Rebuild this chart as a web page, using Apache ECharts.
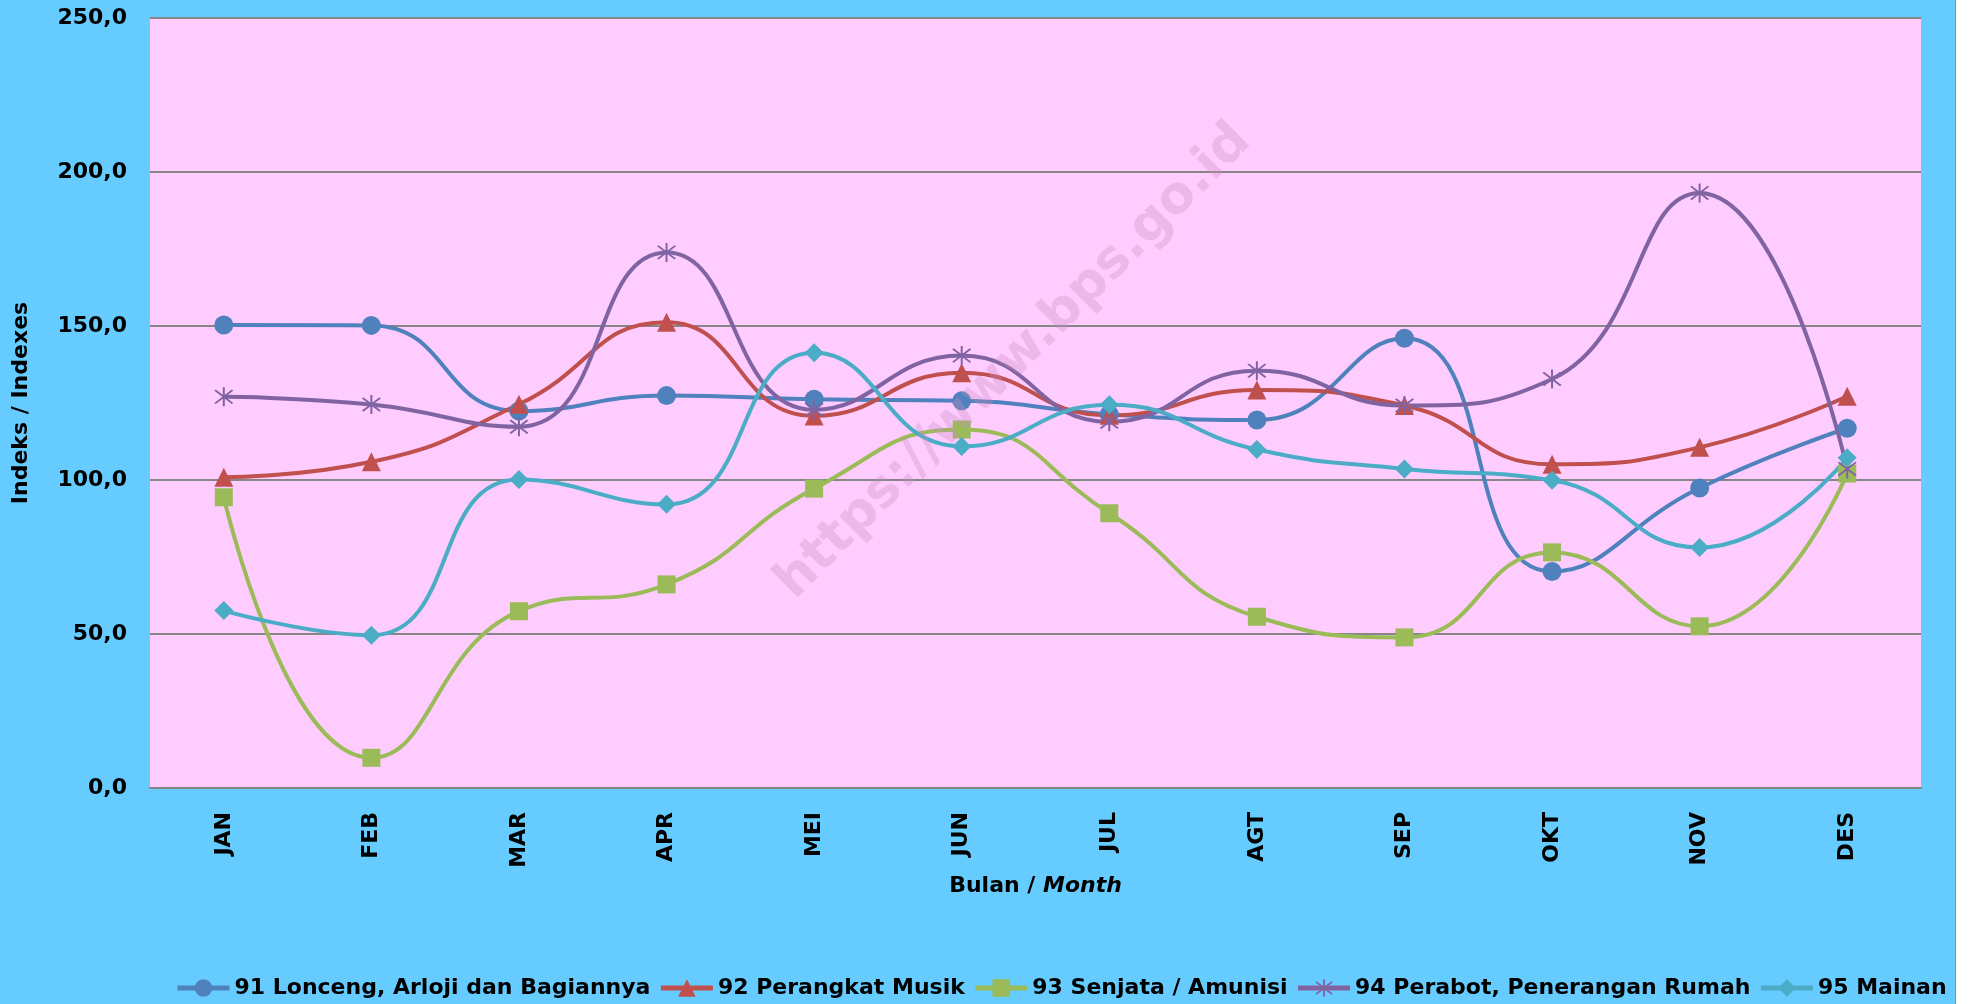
<!DOCTYPE html>
<html>
<head>
<meta charset="utf-8">
<script src="https://cdn.jsdelivr.net/npm/echarts@6/dist/echarts.min.js"></script>
<style>
    html, body { margin: 0; padding: 0; background: #ffffff; }
    #chart { width: 1955px; height: 1004px; background: #66CCFF; border-right: 1px solid #8c8c8c; }
</style>
</head>
<body>
<div id="chart"></div>
<script>
const months = ["JAN", "FEB", "MAR", "APR", "MEI", "JUN", "JUL", "AGT", "SEP", "OKT", "NOV", "DES"];

const lonceng = [150.3, 150.2, 122.4, 127.4, 126.2, 125.7, 121.3, 119.5, 146.0, 70.3, 97.4, 116.8];
const musik = [100.9, 105.9, 124.6, 151.2, 120.8, 134.8, 121.0, 129.2, 124.2, 105.1, 110.6, 127.2];
const senjata = [94.4, 9.8, 57.4, 66.1, 97.2, 116.4, 89.2, 55.6, 48.9, 76.5, 52.5, 102.1];
const perabot = [127.0, 124.5, 117.3, 173.9, 122.8, 140.4, 118.9, 135.5, 124.2, 132.8, 193.2, 103.6];
const mainan = [57.6, 49.6, 100.2, 92.1, 141.3, 110.9, 124.4, 109.9, 103.6, 99.9, 78.1, 107.2];

const seriesNames = [
    "91 Lonceng, Arloji dan Bagiannya",
    "92 Perangkat Musik",
    "93 Senjata / Amunisi",
    "94 Perabot, Penerangan Rumah",
    "95 Mainan",
];

// asterisk marker (vertical bar + x)
const starPath = "path://M9.2,0L10.8,0L10.8,20L9.2,20Z" +
    "M2.4,3.6L3.6,2.4L17.6,16.4L16.4,17.6Z" +
    "M16.4,2.4L17.6,3.6L3.6,17.6L2.4,16.4Z";

const font = "DejaVu Sans";
const chart = echarts.init(document.getElementById("chart"));

function makeSeries(name, data, color, symbol, size) {
    return {
        name: name,
        type: "line",
        data: data,
        smooth: 0.5,
        symbol: symbol,
        symbolSize: size,
        showAllSymbol: true,
        lineStyle: { color: color, width: 4 },
        itemStyle: { color: color },
    };
}

chart.setOption({
    animation: false,
    textStyle: { fontFamily: font },
    grid: { left: 150, right: 34, top: 18, bottom: 216, show: true, backgroundColor: "#FFCCFF", borderWidth: 0 },
    legend: {
        left: 170,
        top: 972,
        itemWidth: 52,
        itemHeight: 22,
        itemGap: 8,
        lineStyle: { width: 5 },
        textStyle: { fontFamily: font, fontWeight: "bold", fontSize: 22, color: "#000" },
        data: seriesNames,
    },
    xAxis: {
        type: "category",
        data: months,
        axisTick: { show: false },
        axisLine: { lineStyle: { color: "#868686", width: 2 } },
        axisLabel: { rotate: 90, margin: 24, color: "#000", fontWeight: "bold", fontSize: 22, fontFamily: font },
        name: "{b|Bulan / }{i|Month}",
        nameLocation: "middle",
        nameGap: 82,
        nameTextStyle: {
            rich: {
                b: { fontFamily: font, fontWeight: "bold", fontSize: 22, color: "#000" },
                i: { fontFamily: font, fontWeight: "bold", fontStyle: "italic", fontSize: 22, color: "#000" },
            },
        },
    },
    yAxis: {
        type: "value",
        min: 0,
        max: 250,
        interval: 50,
        axisLine: { show: false },
        axisTick: { show: false },
        splitLine: { lineStyle: { color: "#868686", width: 2 } },
        axisLabel: {
            margin: 23,
            color: "#000",
            fontWeight: "bold",
            fontSize: 22,
            fontFamily: font,
            formatter: (v) => v.toFixed(1).replace(".", ","),
        },
        name: "Indeks / Indexes",
        nameLocation: "middle",
        nameGap: 118,
        nameTextStyle: { fontFamily: font, fontWeight: "bold", fontSize: 22, color: "#000" },
    },
    graphic: [
        {
            type: "text",
            x: 1014,
            y: 362,
            z: 100,
            rotation: Math.PI / 4,
            style: {
                text: "https://www.bps.go.id",
                fill: "rgba(200,140,190,0.33)",
                font: "bold 52px 'DejaVu Sans'",
                align: "center",
                verticalAlign: "middle",
            },
        },
    ],
    series: [
        makeSeries(seriesNames[0], lonceng, "#4F81BD", "circle", 19),
        makeSeries(seriesNames[1], musik, "#C0504D", "triangle", 19),
        makeSeries(seriesNames[2], senjata, "#9BBB59", "rect", 18),
        makeSeries(seriesNames[3], perabot, "#8064A2", starPath, 19),
        makeSeries(seriesNames[4], mainan, "#4BACC6", "diamond", 19),
    ],
});
</script>
</body>
</html>
